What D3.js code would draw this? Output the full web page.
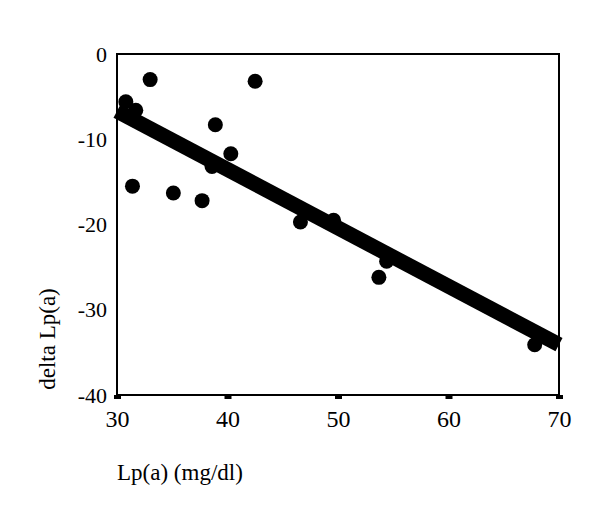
<!DOCTYPE html>
<html>
  <head>
    <meta charset="utf-8">
    <title>delta Lp(a) vs Lp(a)</title>
    <script src="https://d3js.org/d3.v7.min.js"></script>
    <style>
      body { margin: 0; background: #fff; }
    </style>
  </head>
  <body>
    <div id="chart"></div>
    <script>
      // points
      const lpa = [30.8, 31.7, 33.0, 31.4, 35.1, 37.7, 38.6, 38.9, 40.3, 42.5, 46.6, 49.6, 53.7, 54.4, 67.8];
      const deltaLpa = [-5.6, -6.6, -3.0, -15.5, -16.3, -17.2, -13.2, -8.3, -11.7, -3.2, -19.7, -19.5, -26.2, -24.3, -34.1];

      // regression line end points
      const trendX = [30, 70];
      const trendY = [-6.7, -34.1];

      const xTicks = [30, 40, 50, 60, 70];
      const yTicks = [0, -10, -20, -30, -40];

      const serif = "'Liberation Serif', 'Times New Roman', serif";

      const width = 600;
      const height = 521;
      const margin = {top: 54, right: 41, bottom: 126, left: 117};

      const svg = d3.select("#chart")
        .append("svg")
        .attr("width", width)
        .attr("height", height)
        .style("font-family", serif);

      const x = d3.scaleLinear()
        .domain([30, 70])
        .range([margin.left, width - margin.right]);

      const y = d3.scaleLinear()
        .domain([-40, 0])
        .range([height - margin.bottom, margin.top]);

      // plain hyphen for negatives, like the original
      const fmt = d => String(d);

      // frame
      svg.append("rect")
        .attr("x", x(30))
        .attr("y", y(0))
        .attr("width", x(70) - x(30))
        .attr("height", y(-40) - y(0))
        .attr("fill", "none")
        .attr("stroke", "#000")
        .attr("stroke-width", 2);

      // x axis: small square ticks under the axis
      const xAxis = svg.append("g")
        .attr("transform", "translate(0," + y(-40) + ")")
        .call(d3.axisBottom(x).tickValues(xTicks).tickFormat(fmt).tickSize(4).tickSizeOuter(0).tickPadding(11));
      xAxis.select(".domain").remove();
      xAxis.selectAll(".tick line").attr("stroke", "#000").attr("stroke-width", 7);
      xAxis.selectAll(".tick text")
        .attr("fill", "#000")
        .style("font-family", serif)
        .style("font-size", "24px");

      // y axis: labels only
      const yAxis = svg.append("g")
        .attr("transform", "translate(" + x(30) + ",0)")
        .call(d3.axisLeft(y).tickValues(yTicks).tickFormat(fmt).tickSize(0).tickPadding(10));
      yAxis.select(".domain").remove();
      yAxis.selectAll(".tick text")
        .attr("fill", "#000")
        .style("font-family", serif)
        .style("font-size", "22px");

      // regression line
      svg.append("line")
        .attr("x1", x(trendX[0]))
        .attr("y1", y(trendY[0]))
        .attr("x2", x(trendX[1]))
        .attr("y2", y(trendY[1]))
        .attr("stroke", "#000")
        .attr("stroke-width", 15);

      // dots
      svg.append("g")
        .selectAll("circle")
        .data(lpa)
        .enter().append("circle")
        .attr("cx", d => x(d))
        .attr("cy", (d, i) => y(deltaLpa[i]))
        .attr("r", 7.5)
        .attr("fill", "#000");

      // axis titles
      svg.append("text")
        .attr("x", x(30))
        .attr("y", 480)
        .style("font-size", "23px")
        .text("Lp(a) (mg/dl)");

      svg.append("text")
        .attr("transform", "translate(55,339) rotate(-90)")
        .attr("text-anchor", "middle")
        .style("font-size", "23px")
        .text("delta Lp(a)");
    </script>
  </body>
</html>
